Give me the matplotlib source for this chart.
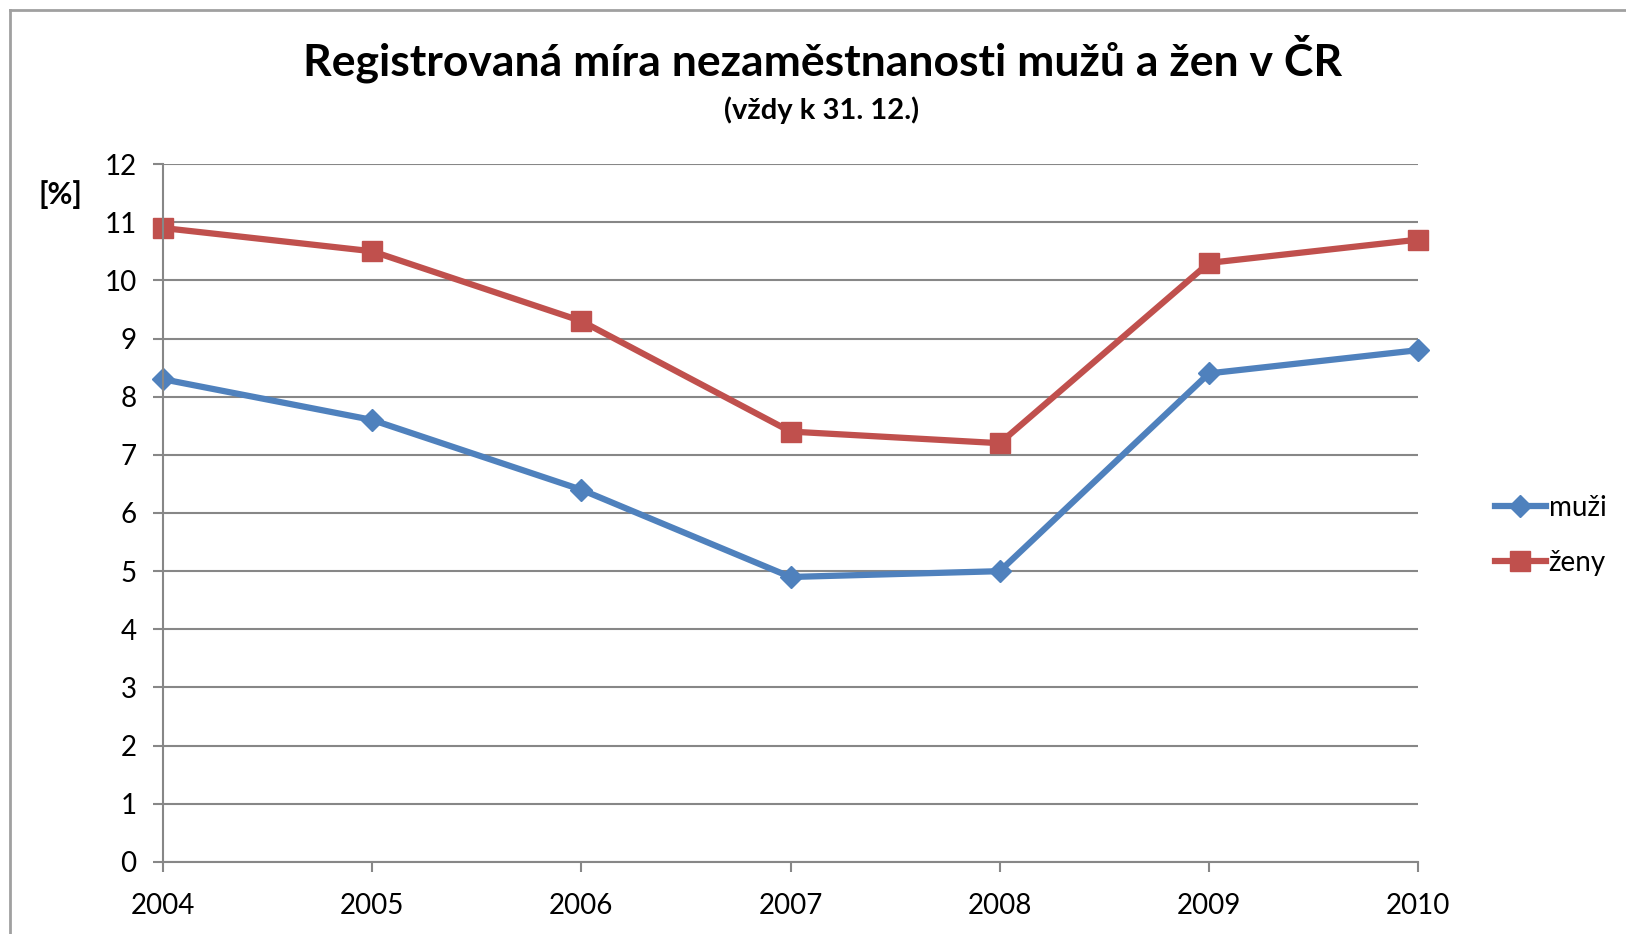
import matplotlib.pyplot as plt
from matplotlib.lines import Line2D

years = ['2004', '2005', '2006', '2007', '2008', '2009', '2010']
muzi = [8.3, 7.6, 6.4, 4.9, 5.0, 8.4, 8.8]
zeny = [10.9, 10.5, 9.3, 7.4, 7.2, 10.3, 10.7]
yticks = list(range(0, 13))

plt.rcParams['font.family'] = ['Lato', 'DejaVu Sans']

fig = plt.figure(figsize=(16.26, 9.34), dpi=100)
ax = fig.add_axes([0.1002, 0.0771, 0.772, 0.7473])

x = range(len(years))
ax.plot(x, muzi, color='#4F81BD', lw=4.5, marker='D', ms=11, label='muži', clip_on=False)
ax.plot(x, zeny, color='#C0504D', lw=4.5, marker='s', ms=14, label='ženy', clip_on=False)

ax.set_xlim(0, len(years) - 1)
ax.set_ylim(0, 12)
ax.set_xticks(list(x))
ax.set_xticklabels(years, fontsize=20)
ax.set_yticks(yticks)
ax.set_yticklabels([str(v) for v in yticks], fontsize=20)
ax.grid(axis='y', color='#878787', lw=1.5)
ax.set_axisbelow(True)
for s in ['top', 'right']:
    ax.spines[s].set_visible(False)
for s in ['left', 'bottom']:
    ax.spines[s].set_color('#878787')
    ax.spines[s].set_linewidth(1.5)
ax.tick_params(axis='both', color='#878787', width=1.5, length=7)
ax.tick_params(axis='x', pad=15)
ax.tick_params(axis='y', pad=12)

fig.text(0.506, 0.937, 'Registrovaná míra nezaměstnanosti mužů a žen v ČR',
         ha='center', va='center', fontsize=32, fontweight='bold')
fig.text(0.505, 0.882, '(vždy k 31. 12.)', ha='center', va='center',
         fontsize=21, fontweight='bold')
fig.text(0.037, 0.792, '[%]', ha='center', va='center', fontsize=22, fontweight='bold')

ax.legend(loc='center left', bbox_to_anchor=(1.052, 0.468), frameon=False,
          fontsize=20, handlelength=1.85, handletextpad=0.1, labelspacing=1.05,
          borderaxespad=0)

# chart frame like the spreadsheet object border
fig.add_artist(Line2D([0.0062, 0.0062], [0, 0.989], color='#a0a0a0', lw=2))
fig.add_artist(Line2D([0.0062, 1], [0.989, 0.989], color='#a0a0a0', lw=2))

fig.savefig('out.png', dpi=100)
